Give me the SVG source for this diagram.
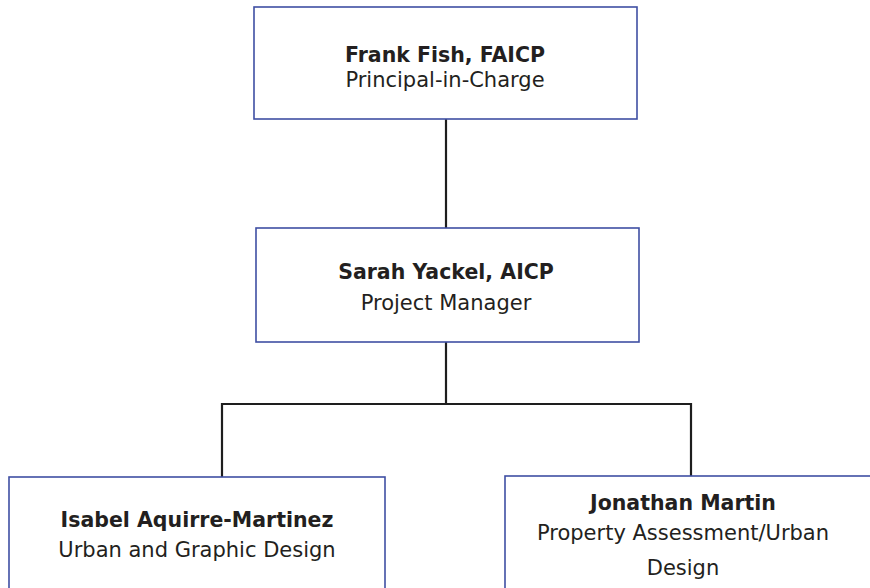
<svg xmlns="http://www.w3.org/2000/svg" width="870" height="588" viewBox="0 0 870 588">
<style>
.box{fill:#fff;stroke:#3f4fa3;stroke-width:1.6}
.conn{fill:none;stroke:#1e1e1e;stroke-width:2.2}
text{font-family:"DejaVu Sans","Liberation Sans",sans-serif;fill:#231f20;text-anchor:middle;font-size:21px}
.b{font-weight:bold;font-size:20.5px}
</style>
<rect width="870" height="588" fill="#fff"/>
<g id="connectors">
<path class="conn" d="M446 119V228"/>
<path class="conn" d="M446 342V404M222 477V404H691V476"/>
</g>
<g id="frank">
<rect class="box" x="254" y="7" width="383" height="112"/>
<text class="b" x="445" y="62">Frank Fish, FAICP</text>
<text x="445" y="87">Principal-in-Charge</text>
</g>
<g id="sarah">
<rect class="box" x="256" y="228" width="383" height="114"/>
<text class="b" x="446" y="279">Sarah Yackel, AICP</text>
<text x="446" y="310">Project Manager</text>
</g>
<g id="isabel">
<rect class="box" x="9" y="477" width="376" height="120"/>
<text class="b" x="197" y="527">Isabel Aquirre-Martinez</text>
<text x="197" y="557">Urban and Graphic Design</text>
</g>
<g id="jonathan">
<rect class="box" x="505" y="476" width="380" height="120"/>
<text class="b" x="683" y="510">Jonathan Martin</text>
<text x="683" y="540">Property Assessment/Urban</text>
<text x="683" y="575">Design</text>
</g>
</svg>
